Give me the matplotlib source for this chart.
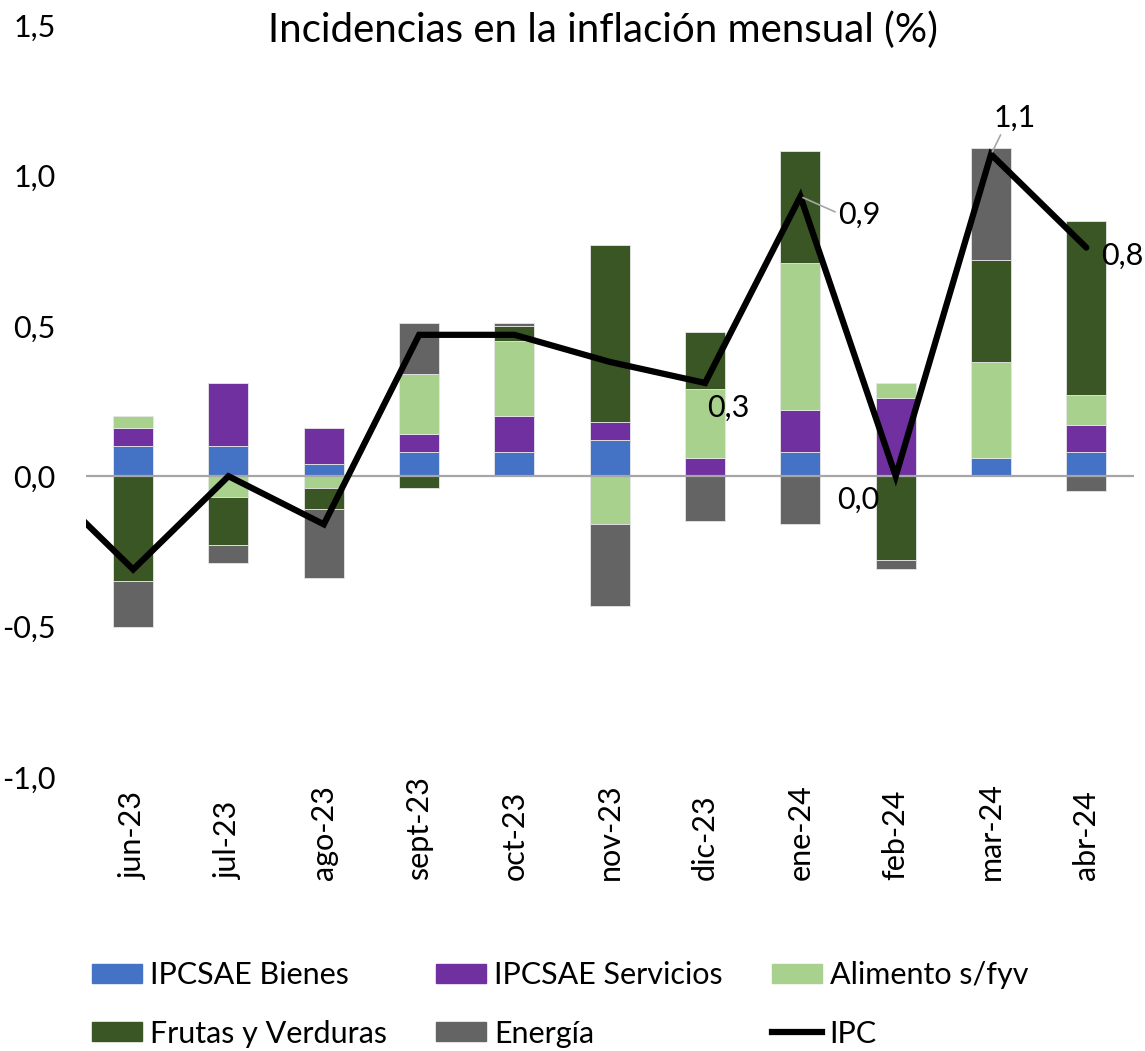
import matplotlib
matplotlib.use("Agg")
import matplotlib.pyplot as plt
from matplotlib.lines import Line2D
from matplotlib.patches import Patch
import numpy as np

plt.rcParams['font.family'] = ['Lato', 'DejaVu Sans']

categories = ['jun-23', 'jul-23', 'ago-23', 'sept-23', 'oct-23', 'nov-23',
              'dic-23', 'ene-24', 'feb-24', 'mar-24', 'abr-24']
bienes = [0.10, 0.10, 0.04, 0.08, 0.08, 0.12, 0.00, 0.08, 0.00, 0.06, 0.08]
servicios = [0.06, 0.21, 0.12, 0.06, 0.12, 0.06, 0.06, 0.14, 0.26, 0.00, 0.09]
alimento = [0.04, -0.07, -0.04, 0.20, 0.25, -0.16, 0.23, 0.49, 0.05, 0.32, 0.10]
frutas = [-0.35, -0.16, -0.07, -0.04, 0.05, 0.59, 0.19, 0.37, -0.28, 0.34, 0.58]
energia = [-0.15, -0.06, -0.23, 0.17, 0.01, -0.27, -0.15, -0.16, -0.03, 0.37, -0.05]
ipc_prev = 0.00  # may-23 (only the entering segment is visible)
ipc = [-0.31, 0.00, -0.16, 0.47, 0.47, 0.38, 0.31, 0.93, 0.00, 1.07, 0.76]

series_names = ['IPCSAE Bienes', 'IPCSAE Servicios', 'Alimento s/fyv',
                'Frutas y Verduras', 'Energía']
series_vals = [bienes, servicios, alimento, frutas, energia]
colors = ['#4472C4', '#7030A0', '#A9D18E', '#3A5624', '#646464']
yticks = [-1.0, -0.5, 0.0, 0.5, 1.0, 1.5]
title = 'Incidencias en la inflación mensual (%)'

fig = plt.figure(figsize=(11.45, 10.51), dpi=100)
ax = fig.add_axes([85.5 / 1145, 1 - 777 / 1051, (1134 - 85.5) / 1145, (777 - 25) / 1051])

x = np.arange(len(categories))
pos_base = np.zeros(len(categories))
neg_base = np.zeros(len(categories))
for name, vals, c in zip(series_names, series_vals, colors):
    v = np.array(vals)
    bottoms = np.where(v >= 0, pos_base, neg_base)
    ax.bar(x, v, 0.42, bottom=bottoms, color=c, edgecolor='#E6E6E6',
           linewidth=0.6, zorder=2, label=name)
    pos_base = pos_base + np.where(v >= 0, v, 0)
    neg_base = neg_base + np.where(v < 0, v, 0)

ax.axhline(0, color='#A6A6A6', lw=1.6, zorder=3)

xl = np.concatenate([[-1], x])
yl = np.concatenate([[ipc_prev], ipc])
ax.plot(xl, yl, color='black', lw=4.5, zorder=4, solid_joinstyle='miter',
        solid_capstyle='round')

ax.set_xlim(-0.5, len(categories) - 0.5)
ax.set_ylim(-1.0, 1.5)
ax.set_yticks(yticks)
ax.set_yticklabels([f'{t:.1f}'.replace('.', ',') for t in yticks], fontsize=22)
ax.tick_params(axis='y', length=0, pad=21.5)
ax.set_xticks([])
for s in ax.spines.values():
    s.set_visible(False)

trans = ax.get_xaxis_transform()
for i, lab in enumerate(categories):
    ax.text(i, -(880 - 777) / 752, lab, rotation=90, ha='center', va='bottom',
            fontsize=22, transform=trans)

fig.text(603 / 1145, 1 - 30 / 1051, title, ha='center', va='center', fontsize=29)

def lab(v):
    return f'{v:.1f}'.replace('.', ',')

# data labels for last five points: (dx, dy, ha, va, leader relpos)
offs = {6: (16.5, -18, 'center', 'center', None),
        7: (27, -13, 'left', 'center', (0, 0.55)),
        8: (-27, -17, 'center', 'center', None),
        9: (17, 16, 'center', 'bottom', (0.2, 0.0)),
        10: (26, -6, 'center', 'center', None)}
for i, (dx, dy, ha, va, rel) in offs.items():
    kw = dict(textcoords='offset points', fontsize=22, ha=ha, va=va, zorder=5)
    if rel is not None:
        kw['arrowprops'] = dict(arrowstyle='-', color='#A6A6A6', lw=1.2,
                                shrinkA=0, shrinkB=2, relpos=rel)
    ax.annotate(lab(ipc[i]), xy=(i, ipc[i]), xytext=(dx, dy), annotation_clip=False, **kw)

handles = [Patch(color=c) for c in colors] + [Line2D([], [], color='black', lw=4.5)]
names = series_names + ['IPC']
order = [0, 3, 1, 4, 2, 5]
leg = fig.legend([handles[k] for k in order], [names[k] for k in order], ncol=3,
                 loc='upper left', bbox_to_anchor=(92 / 1145, 1 - 961 / 1051),
                 frameon=False, fontsize=22, handlelength=1.65, handleheight=0.6,
                 handletextpad=0.25, columnspacing=1.6, labelspacing=1.0,
                 borderaxespad=0, borderpad=0)

fig.savefig('out.png', dpi=100)
